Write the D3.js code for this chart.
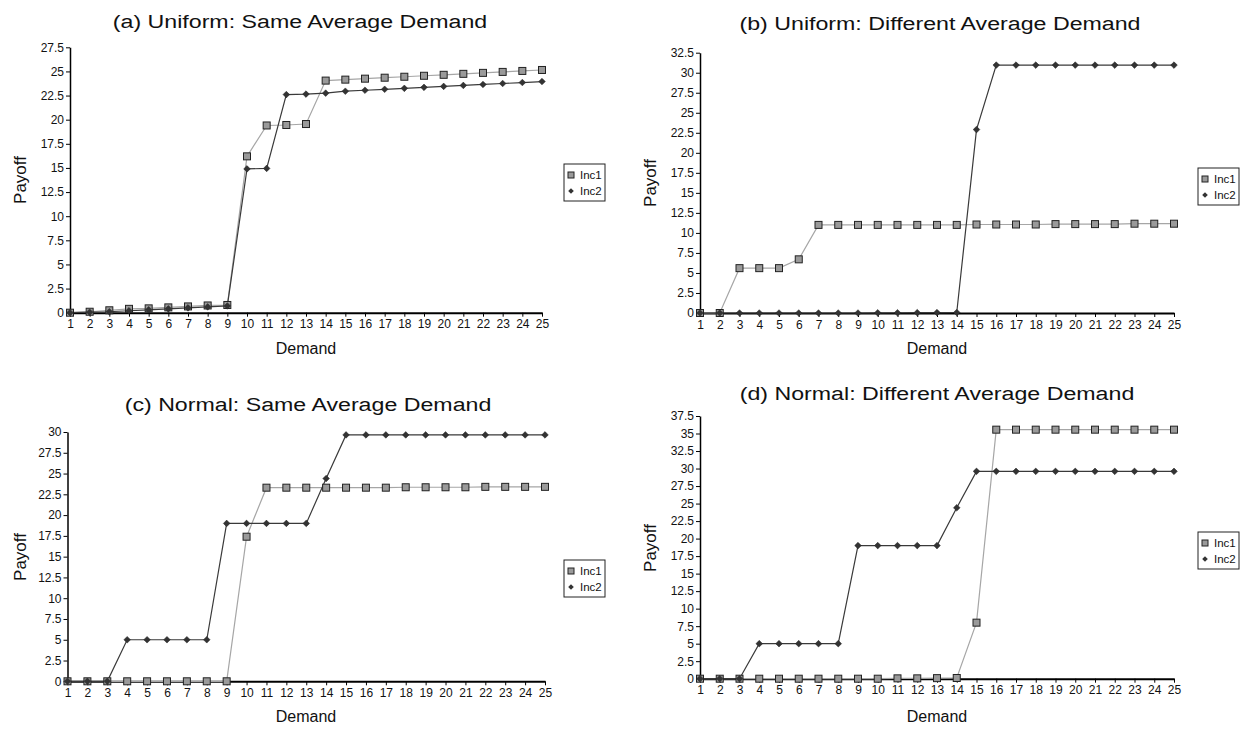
<!DOCTYPE html>
<html><head><meta charset="utf-8">
<script src="https://cdn.jsdelivr.net/npm/d3@7"></script>
<style>
html,body{margin:0;padding:0;background:#fff;}
svg{display:block;font-family:"Liberation Sans",Arial,sans-serif;}
</style></head>
<body><svg id="c" width="1244" height="729"></svg>
<script>
const demand = [1,2,3,4,5,6,7,8,9,10,11,12,13,14,15,16,17,18,19,20,21,22,23,24,25];
const seriesNames = ["Inc1","Inc2"];
const titles = ["(a) Uniform: Same Average Demand","(b) Uniform: Different Average Demand","(c) Normal: Same Average Demand","(d) Normal: Different Average Demand"];
const yMax = [27.5, 32.5, 30, 37.5];

const a_inc1 = [0,0.1,0.25,0.4,0.45,0.55,0.65,0.75,0.8,16.2,19.4,19.45,19.55,24.05,24.15,24.25,24.35,24.45,24.55,24.65,24.75,24.85,24.95,25.05,25.15];
const a_inc2 = [0,0.05,0.1,0.2,0.3,0.4,0.5,0.6,0.7,14.9,14.95,22.6,22.65,22.75,22.95,23.05,23.15,23.25,23.35,23.45,23.55,23.65,23.75,23.85,23.95];
const b_inc1 = [0,0,5.6,5.6,5.6,6.7,11.0,11.0,11.0,11.0,11.0,11.0,11.0,11.0,11.05,11.05,11.05,11.05,11.1,11.1,11.1,11.1,11.15,11.15,11.15];
const b_inc2 = [0,0,0,0,0,0,0,0,0,0.02,0.03,0.04,0.05,0.06,22.9,30.95,30.95,30.95,30.95,30.95,30.95,30.95,30.95,30.95,30.95];
const c_inc1 = [0,0,0,0,0,0,0,0,0,17.4,23.3,23.3,23.3,23.3,23.3,23.3,23.3,23.35,23.35,23.35,23.35,23.4,23.4,23.4,23.4];
const c_inc2 = [0,0,0,5,5,5,5,5,19,19,19,19,19,24.4,29.65,29.65,29.65,29.65,29.65,29.65,29.65,29.65,29.65,29.65,29.65];
const d_inc1 = [0,0,0,0,0,0,0,0,0,0,0.05,0.05,0.08,0.1,8.0,35.55,35.55,35.55,35.55,35.55,35.55,35.55,35.55,35.55,35.55];
const d_inc2 = [0,0,0,5,5,5,5,5,19,19,19,19,19,24.4,29.6,29.6,29.6,29.6,29.6,29.6,29.6,29.6,29.6,29.6,29.6];

const panelData = [[a_inc1,a_inc2],[b_inc1,b_inc2],[c_inc1,c_inc2],[d_inc1,d_inc2]];

// layout (pixels)
const layout = [
  {l:70, r:542, t:47.3, b:312.7, tx:300, ty:28, dx:306, dy:354, px:20, py:180, lgx:564, lgy:164},
  {l:700, r:1174, t:52.7, b:313, tx:940, ty:30, dx:937, dy:354, px:650, py:183, lgx:1198, lgy:168},
  {l:67.5, r:545, t:432, b:681.3, tx:308, ty:411, dx:306, dy:722, px:20, py:557, lgx:564, lgy:560},
  {l:700, r:1174, t:416, b:678.7, tx:937, ty:400, dx:937, dy:722, px:650, py:548, lgx:1198, lgy:532}
];

const svg = d3.select("#c");
const fmt = d => (d % 1 ? d.toFixed(1) : String(d));
const col1Line = "#a6a6a6", col2Line = "#3a3a3a";

layout.forEach((L, i) => {
  const g = svg.append("g");
  const x = d3.scaleLinear().domain([1,25]).range([L.l, L.r]);
  const y = d3.scaleLinear().domain([0, yMax[i]]).range([L.b, L.t]);

  // title
  g.append("text").attr("x", L.tx).attr("y", L.ty).attr("text-anchor","middle")
    .attr("font-size", 19).attr("fill","#111")
    .attr("transform", `translate(${L.tx},0) scale(1.22,1) translate(${-L.tx},0)`)
    .text(titles[i]);

  // y axis
  const yAxis = d3.axisLeft(y).tickValues(d3.range(0, yMax[i] + 0.001, 2.5)).tickFormat(fmt).tickSize(4).tickSizeOuter(0);
  const ya = g.append("g").attr("transform", `translate(${L.l},0)`).call(yAxis);
  ya.select(".domain").attr("stroke","#000").attr("stroke-width",1.5);
  ya.selectAll(".tick line").attr("stroke","#000");
  ya.selectAll(".tick text").attr("font-size",12).attr("fill","#111").attr("font-family","Liberation Sans, Arial, sans-serif").attr("x",-6);

  // x axis
  const xAxis = d3.axisBottom(x).tickValues(demand).tickFormat(d => d).tickSize(4).tickSizeOuter(0);
  const xa = g.append("g").attr("transform", `translate(0,${L.b})`).call(xAxis);
  xa.select(".domain").attr("stroke","#000").attr("stroke-width",2);
  xa.selectAll(".tick line").attr("stroke","#000");
  xa.selectAll(".tick text").attr("font-size",12).attr("fill","#111").attr("font-family","Liberation Sans, Arial, sans-serif").attr("y",7);

  // axis labels
  g.append("text").attr("x", L.dx).attr("y", L.dy).attr("text-anchor","middle").attr("font-size",16).attr("fill","#111").text("Demand");
  g.append("text").attr("transform", `translate(${L.px + 6},${L.py}) rotate(-90)`).attr("text-anchor","middle").attr("font-size",17).attr("fill","#111").text("Payoff");

  const [s1, s2] = panelData[i];
  const line = d3.line().x((d, k) => x(demand[k])).y(d => y(d));

  g.append("path").datum(s1).attr("d", line).attr("fill","none").attr("stroke",col1Line).attr("stroke-width",1.2);
  g.append("path").datum(s2).attr("d", line).attr("fill","none").attr("stroke",col2Line).attr("stroke-width",1.2);

  g.selectAll(".sq").data(s1).enter().append("rect")
    .attr("x", (d,k) => x(demand[k]) - 3.5).attr("y", d => y(d) - 3.5)
    .attr("width",7).attr("height",7).attr("fill","#9a9a9a").attr("stroke","#222").attr("stroke-width",1);
  g.selectAll(".dm").data(s2).enter().append("path")
    .attr("d", d3.symbol(d3.symbolDiamond2, 28))
    .attr("transform", (d,k) => `translate(${x(demand[k])},${y(d)})`)
    .attr("fill","#333").attr("stroke","#222").attr("stroke-width",0.5);

  // legend
  const lg = g.append("g").attr("transform", `translate(${L.lgx},${L.lgy})`);
  lg.append("rect").attr("width",41).attr("height",37).attr("fill","#fff").attr("stroke","#222").attr("stroke-width",1);
  lg.append("rect").attr("x",4).attr("y",8).attr("width",6).attr("height",6).attr("fill","#9a9a9a").attr("stroke","#222").attr("stroke-width",1);
  lg.append("path").attr("d", d3.symbol(d3.symbolDiamond2, 20)).attr("transform","translate(7,27)").attr("fill","#333");
  lg.append("text").attr("x",16).attr("y",15).attr("font-size",11.5).attr("fill","#111").text(seriesNames[0]);
  lg.append("text").attr("x",16).attr("y",31).attr("font-size",11.5).attr("fill","#111").text(seriesNames[1]);
});
</script>
</body></html>
